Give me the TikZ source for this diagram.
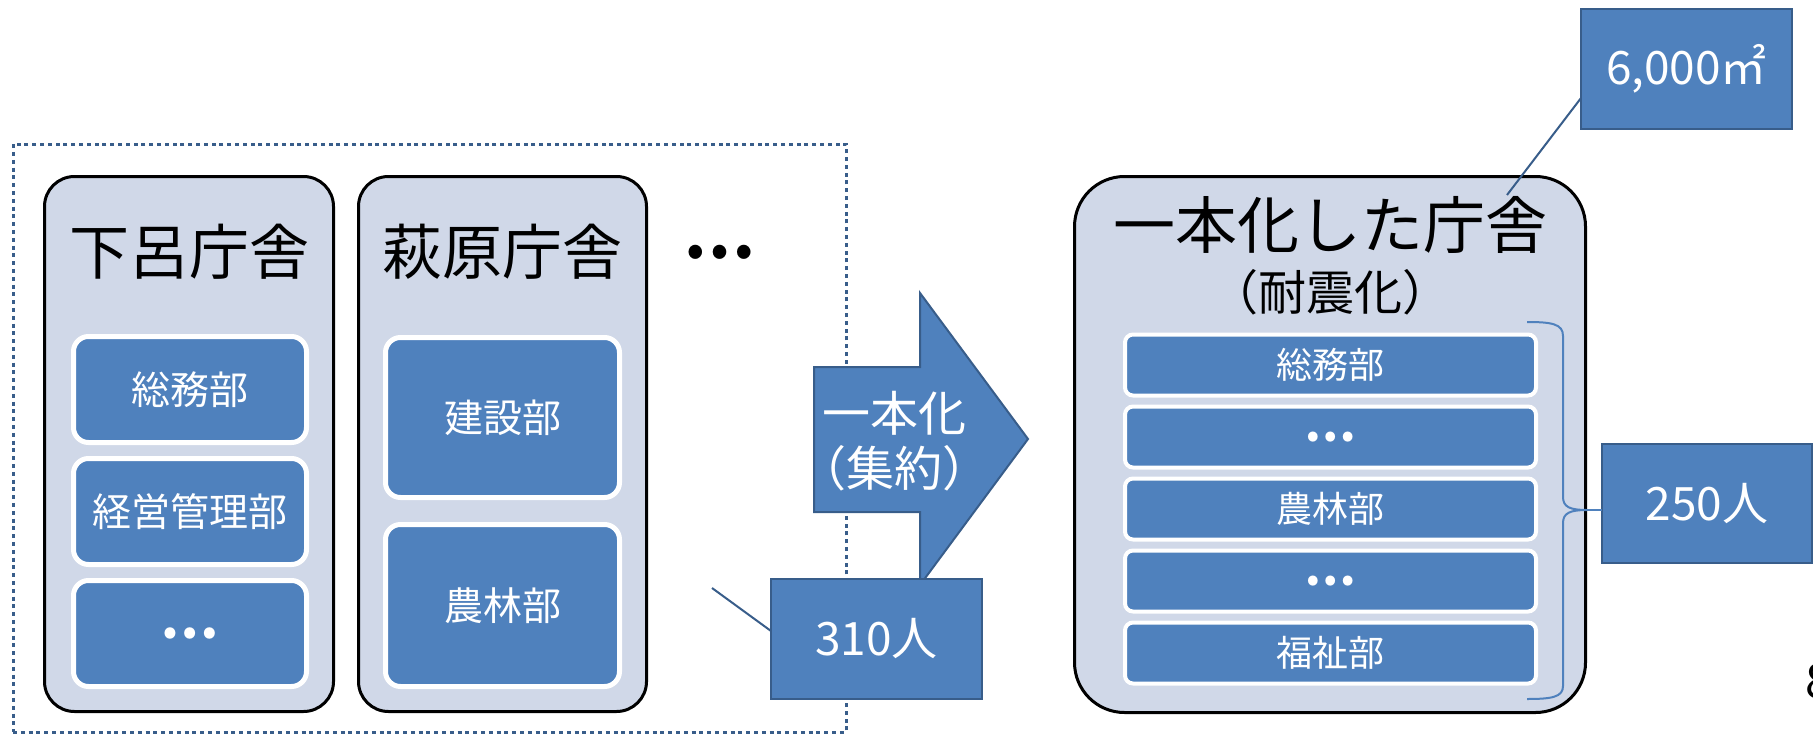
\documentclass[tikz,border=0pt]{standalone}
\usepackage{fontspec}
\setmainfont{Noto Sans CJK JP}
\definecolor{bfill}{HTML}{4F81BD}
\definecolor{bdark}{HTML}{385D8A}
\definecolor{hfill}{HTML}{D0D8E8}
\tikzset{
  house/.style={draw=black, line width=1.5pt, fill=hfill, rounded corners=15pt, inner sep=0pt, outer sep=0pt},
  dept/.style={draw=white, line width=2.5pt, fill=bfill, rounded corners=7.5pt, inner sep=0pt, outer sep=0pt,
    minimum width=116.5pt, text=white, font=\fontsize{19.5pt}{23pt}\selectfont},
  bar/.style={draw=white, line width=2pt, fill=bfill, rounded corners=4pt, inner sep=0pt, outer sep=0pt,
    minimum width=205.5pt, minimum height=30.5pt, text=white, font=\fontsize{18pt}{22pt}\selectfont},
  callbox/.style={draw=bdark, line width=1pt, fill=bfill, inner sep=0pt, outer sep=0pt,
    minimum width=105.5pt, minimum height=60pt, text=white, font=\fontsize{23pt}{28pt}\selectfont},
  housetitle/.style={font=\fontsize{30pt}{36pt}\selectfont, inner sep=0pt},
  callline/.style={draw=bdark, line width=1pt},
  arrowtext/.style={text=white, inner sep=0pt, font=\fontsize{24pt}{28pt}\selectfont},
  ellbig/.style={font=\fontsize{26pt}{30pt}\selectfont\bfseries},
  ellsmall/.style={font=\fontsize{23pt}{26pt}\selectfont\bfseries},
}
\begin{document}
\begin{tikzpicture}[x=0.5pt, y=-0.5pt]
\useasboundingbox (0,0) rectangle (1813,733);
\clip (0,0) rectangle (1813,733);

% group frame
\node[draw=bdark, line width=1.5pt, dash pattern=on 2pt off 1.9pt, inner sep=0pt, outer sep=0pt,
  minimum width=416.5pt, minimum height=294pt] (grp) at (429.5,438) {};

% left buildings
\node[house, minimum width=144.5pt, minimum height=267.5pt] (b1) at (189,444) {};
\node[house, minimum width=144pt, minimum height=267.5pt] (b2) at (502.5,444) {};
\node[housetitle] (t1) at (189,252) {下呂庁舎};
\node[housetitle] (t2) at (502.5,252) {萩原庁舎};
\node[housetitle, font=\fontsize{32pt}{36pt}\selectfont\bfseries] (more) at (719,252) {…};

\node[dept, minimum height=53pt] (d11) at (190,389.5) {総務部};
\node[dept, minimum height=53pt] (d12) at (190,511.5) {経営管理部};
\node[dept, minimum height=53pt, ellbig] (d13) at (190,633.5) {…};
\node[dept, minimum width=117pt, minimum height=80pt] (d21) at (502.5,417.5) {建設部};
\node[dept, minimum width=117pt, minimum height=81pt] (d22) at (502.5,605.5) {農林部};

% big arrow
\draw[fill=bfill, draw=bdark, line width=1pt, line join=miter]
  (814,367) -- (920,367) -- (920,293) -- (1028,439) -- (920,585) -- (920,512) -- (814,512) -- cycle;
\node[arrowtext] (a1) at (894,413) {一本化};
\node[arrowtext] (a2) at (894,468) {（集約）};

% 310 callout
\node[callbox] (n310) at (876.5,639) {310人};
\coordinate (c310) at (712,588);
\draw[callline] (c310) -- ([yshift=4pt]n310.west);

% merged building
\node[house, rounded corners=25pt, minimum width=255.5pt, minimum height=268pt] (b3) at (1330,444.5) {};
\node[font=\fontsize{31pt}{36pt}\selectfont, inner sep=0pt] (t3) at (1330,225) {一本化した庁舎};
\node[font=\fontsize{24pt}{28pt}\selectfont, inner sep=0pt] (t3b) at (1330,292) {（耐震化）};

\node[bar] (r1) at (1330.5,365) {総務部};
\node[bar, ellsmall] (r2) at (1330.5,437) {…};
\node[bar] (r3) at (1330.5,509) {農林部};
\node[bar, ellsmall] (r4) at (1330.5,581) {…};
\node[bar] (r5) at (1330.5,653) {福祉部};

% brace
\coordinate (btop) at (1527,322);
\coordinate (btip) at (1587,510);
\coordinate (bbot) at (1527,699);
\draw[draw=bfill, line width=1pt]
  (btop) .. controls (1552,322) and (1563,324) .. (1563,336) -- (1563,497)
  .. controls (1563,507) and (1570,510) .. (btip)
  .. controls (1570,510) and (1563,513) .. (1563,523) -- (1563,686)
  .. controls (1563,697) and (1552,699) .. (bbot);

% 250 callout
\node[callbox, minimum width=105pt, minimum height=59.5pt] (n250) at (1707,503.5) {250人};
\draw[draw=bfill, line width=1pt] (btip) -- (btip -| n250.west);

% 6000 callout
\node[callbox] (n6000) at (1686.5,69) {6,000㎡};
\coordinate (c6000) at (1507,195);
\draw[callline] ([yshift=-14.5pt]n6000.west) -- (c6000);

% page number (cut off, as in the reference)
\node[anchor=base west, inner sep=0pt, font=\fontsize{24pt}{28pt}\selectfont] (pg) at (1805,698) {8};
\end{tikzpicture}
\end{document}
